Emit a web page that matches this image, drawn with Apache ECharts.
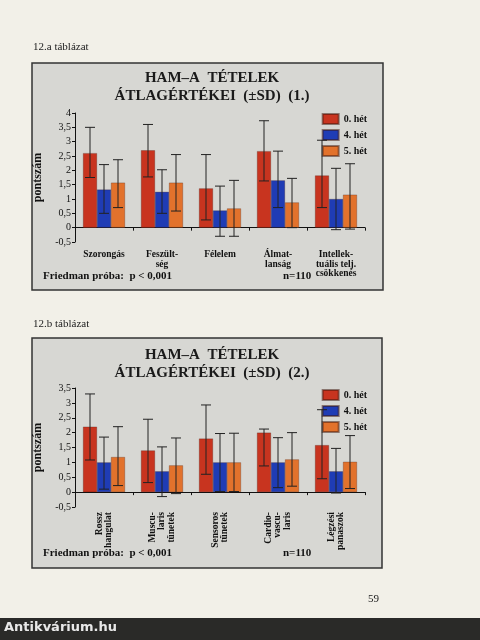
<!DOCTYPE html>
<html>
<head>
<meta charset="utf-8">
<script src="https://cdn.jsdelivr.net/npm/echarts@6/dist/echarts.min.js"></script>
<style>
html,body{margin:0;padding:0;background:#f2f0e8;}
#main{width:480px;height:640px;}
</style>
</head>
<body>
<div id="main"></div>
<script>
// 12.a
var cats1 = ['Szorongás', 'Feszült-\nség', 'Félelem', 'Álmat-\nlanság', 'Intellek-\ntuális telj.\ncsökkenés'];
var mean1_0 = [2.6, 2.7, 1.37, 2.67, 1.82];
var mean1_4 = [1.33, 1.25, 0.6, 1.65, 1.0];
var mean1_5 = [1.57, 1.57, 0.67, 0.88, 1.15];
var hi1_0 = [3.5, 3.6, 2.55, 3.73, 3.05];
var lo1_0 = [1.75, 1.77, 0.27, 1.63, 0.7];
var hi1_4 = [2.2, 2.02, 1.45, 2.67, 2.07];
var lo1_4 = [0.5, 0.5, -0.3, 0.7, -0.07];
var hi1_5 = [2.37, 2.55, 1.65, 1.72, 2.23];
var lo1_5 = [0.7, 0.58, -0.3, 0, -0.05];
// 12.b
var cats2 = ['Rossz\nhangulat', 'Muscu-\nlaris\ntünetek', 'Sensoros\ntünetek', 'Cardio-\nvascu-\nlaris', 'Légzési\npanaszok'];
var mean2_0 = [2.2, 1.4, 1.8, 2.0, 1.58];
var mean2_4 = [1.0, 0.7, 1.0, 1.0, 0.7];
var mean2_5 = [1.18, 0.9, 1.0, 1.1, 1.02];
var hi2_0 = [3.3, 2.45, 2.93, 2.12, 2.77];
var lo2_0 = [1.08, 0.32, 0.6, 0.88, 0.45];
var hi2_4 = [1.85, 1.52, 1.97, 1.83, 1.47];
var lo2_4 = [0.1, -0.15, 0.02, 0.15, -0.03];
var hi2_5 = [2.2, 1.82, 1.98, 2.0, 1.9];
var lo2_5 = [0.22, -0.05, 0.02, 0.2, 0.12];
var weeks = ['0. hét', '4. hét', '5. hét'];
var colors = ['#c8341f', '#1f3cb5', '#e2722c'];
var serif = 'Liberation Serif';
var BW = 14;

function errSeries(grid, lo, hi, k) {
    return {
        type: 'custom', xAxisIndex: grid, yAxisIndex: grid, z: 5, silent: true,
        data: lo.map(function (v, i) { return [i, v, hi[i]]; }),
        renderItem: function (params, api) {
            var off = (k - 1) * BW;
            var a = api.coord([api.value(0), api.value(1)]);
            var b = api.coord([api.value(0), api.value(2)]);
            var x = a[0] + off;
            var st = { stroke: '#222', lineWidth: 1 };
            return { type: 'group', children: [
                { type: 'line', shape: { x1: x, y1: a[1], x2: x, y2: b[1] }, style: st },
                { type: 'line', shape: { x1: x - 5, y1: a[1], x2: x + 5, y2: a[1] }, style: st },
                { type: 'line', shape: { x1: x - 5, y1: b[1], x2: x + 5, y2: b[1] }, style: st }
            ] };
        }
    };
}
function barSeries(grid, data, k) {
    return {
        name: weeks[k], type: 'bar', xAxisIndex: grid, yAxisIndex: grid, data: data,
        barWidth: BW, barGap: '0%',
        itemStyle: { color: colors[k], borderColor: 'rgba(60,20,10,0.5)', borderWidth: 0.5 }
    };
}
function yAxis(grid, max) {
    return {
        gridIndex: grid, type: 'value', min: -0.5, max: max, interval: 0.5,
        name: 'pontszám', nameLocation: 'middle', nameGap: 26,
        nameTextStyle: { fontFamily: serif, fontWeight: 'bold', fontSize: 12, color: '#111' },
        axisLine: { show: true, lineStyle: { color: '#111' } },
        axisTick: { show: true, length: 3, lineStyle: { color: '#111' } },
        splitLine: { show: false },
        axisLabel: { fontFamily: serif, fontSize: 10, color: '#111', margin: 4,
            formatter: function (v) { return String(v).replace('.', ','); } }
    };
}
function xAxis(grid, cats, rot) {
    return {
        gridIndex: grid, type: 'category', data: cats,
        axisLine: { onZero: true, lineStyle: { color: '#111' } },
        axisTick: { show: true, length: 3, lineStyle: { color: '#111' } },
        axisLabel: { fontFamily: serif, fontWeight: 'bold', fontSize: 9.5, color: '#111',
            interval: 0, rotate: rot, margin: rot ? 5 : 8, lineHeight: 9.5 }
    };
}
function legend(top) {
    return {
        data: weeks, orient: 'vertical', right: 108, top: top, itemWidth: 16, itemHeight: 10, itemGap: 4,
        align: 'left', selectedMode: false, icon: 'rect',
        textStyle: { fontFamily: serif, fontWeight: 'bold', fontSize: 10, color: '#111' }
    };
}
var tStyle = { fontFamily: serif, fontWeight: 'bold', fontSize: 15, color: '#1a1a1a', lineHeight: 18 };
var fStyle = { fontFamily: serif, fontWeight: 'bold', fontSize: 11, fill: '#111' };

var option = {
    animation: false,
    backgroundColor: '#f2f0e8',
    color: colors,
    graphic: [
        { type: 'rect', shape: { x: 32, y: 63, width: 351, height: 227 }, style: { fill: '#d7d7d3', stroke: '#333', lineWidth: 1.5 }, z: -10 },
        { type: 'rect', shape: { x: 32, y: 338, width: 350, height: 230 }, style: { fill: '#d7d7d3', stroke: '#333', lineWidth: 1.5 }, z: -10 },
        { type: 'text', left: 33, top: 42, style: { text: '12.a táblázat', fontFamily: serif, fontSize: 11, fill: '#222' } },
        { type: 'text', left: 33, top: 319, style: { text: '12.b táblázat', fontFamily: serif, fontSize: 11, fill: '#222' } },
        { type: 'text', left: 43, top: 271, style: Object.assign({ text: 'Friedman próba:  p < 0,001' }, fStyle) },
        { type: 'text', left: 283, top: 271, style: Object.assign({ text: 'n=110' }, fStyle) },
        { type: 'text', left: 43, top: 548, style: Object.assign({ text: 'Friedman próba:  p < 0,001' }, fStyle) },
        { type: 'text', left: 283, top: 548, style: Object.assign({ text: 'n=110' }, fStyle) },
        { type: 'text', left: 368, top: 594, style: { text: '59', fontFamily: serif, fontSize: 11, fill: '#222' } },
        { type: 'rect', shape: { x: 0, y: 618, width: 480, height: 22 }, style: { fill: '#2a2a28' }, z: -5 },
        { type: 'text', left: 4, top: 621, style: { text: 'Antikvárium.hu', fontFamily: 'DejaVu Sans', fontWeight: 'bold', fontSize: 13, fill: '#e8e8e8' } }
    ],
    title: [
        { text: 'HAM–A  TÉTELEK\nÁTLAGÉRTÉKEI  (±SD)  (1.)', left: 207, top: 64, textAlign: 'center', textStyle: tStyle },
        { text: 'HAM–A  TÉTELEK\nÁTLAGÉRTÉKEI  (±SD)  (2.)', left: 207, top: 341, textAlign: 'center', textStyle: tStyle }
    ],
    legend: [legend(108), legend(384)],
    grid: [
        { left: 75, right: 115, top: 113, bottom: 398 },
        { left: 75, right: 115, top: 388, bottom: 133 }
    ],
    xAxis: [xAxis(0, cats1, 0), xAxis(1, cats2, 90)],
    yAxis: [yAxis(0, 4), yAxis(1, 3.5)],
    series: [
        barSeries(0, mean1_0, 0), barSeries(0, mean1_4, 1), barSeries(0, mean1_5, 2),
        errSeries(0, lo1_0, hi1_0, 0), errSeries(0, lo1_4, hi1_4, 1), errSeries(0, lo1_5, hi1_5, 2),
        barSeries(1, mean2_0, 0), barSeries(1, mean2_4, 1), barSeries(1, mean2_5, 2),
        errSeries(1, lo2_0, hi2_0, 0), errSeries(1, lo2_4, hi2_4, 1), errSeries(1, lo2_5, hi2_5, 2)
    ]
};
var mychart = echarts.init(document.getElementById('main'));
mychart.setOption(option);
</script>
</body>
</html>
